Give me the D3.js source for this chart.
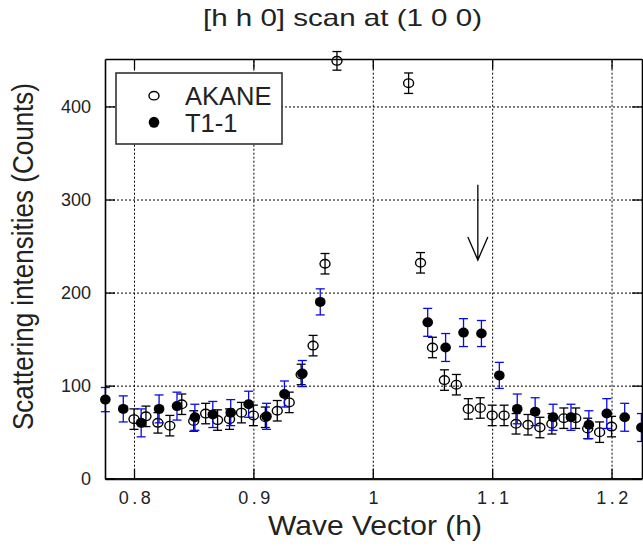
<!DOCTYPE html>
<html>
<head>
<meta charset="utf-8">
<script src="https://cdn.jsdelivr.net/npm/d3@7"></script>
<style>
    body { margin: 0; background: #fff; }
    .main-grid line { stroke: #000; stroke-width: 1; stroke-dasharray: 2,2; }
    .main-grid path { display: none; }
</style>
</head>
<body>
<div id="chartContainer"></div>
<script>
// AKANE (open circles)
const akaneH = [0.80, 0.81, 0.82, 0.83, 0.84, 0.85, 0.86, 0.87, 0.88, 0.89, 0.90, 0.91,
    0.92, 0.93, 0.94, 0.95, 0.96, 0.97, 1.03, 1.04, 1.05, 1.06, 1.07, 1.08, 1.09, 1.10,
    1.11, 1.12, 1.13, 1.14, 1.15, 1.16, 1.17, 1.18, 1.19, 1.20];
const akaneCounts = [64, 67, 60, 57, 80, 62, 70, 63, 64, 71, 68, 66,
    73, 82, 112, 143, 231, 449, 425, 232, 141, 106, 101, 75, 76, 68,
    68, 59, 58, 55, 59, 65, 65, 54, 50, 56];
const akaneErr = [11, 11, 11, 11, 11, 11, 11, 11, 11, 11, 11, 11,
    11, 11, 11, 11, 11, 10, 11, 11, 11, 11, 11, 11, 11, 11,
    11, 11, 11, 11, 11, 11, 11, 11, 11, 11];

// T1-1 (filled circles)
const t11H = [0.776, 0.791, 0.806, 0.821, 0.836, 0.851, 0.866, 0.881, 0.896, 0.911,
    0.926, 0.941, 0.956, 1.046, 1.061, 1.076, 1.091, 1.106, 1.121, 1.136, 1.151,
    1.166, 1.181, 1.196, 1.211, 1.225];
const t11Counts = [85, 75, 60, 75, 78, 66, 69, 71, 80, 67,
    91, 113, 190, 168, 141, 157, 156, 111, 75, 72, 66,
    66, 58, 70, 66, 55];
const t11Err = [13, 14, 15, 15, 15, 14, 14, 14, 14, 14,
    14, 14, 14, 15, 15, 15, 14, 14, 16, 15, 14,
    14, 15, 16, 15, 15];

const xTicks = [0.8, 0.9, 1.0, 1.1, 1.2];
const xTickLabels = ['0.8', '0.9', '1', '1.1', '1.2'];
const yTicks = [0, 100, 200, 300, 400];

// arrow marking the peak position
const arrowH = 1.088;
const arrowFrom = 316;
const arrowTo = 235;

function init() {
    const width = 643;
    const height = 546;
    const margin = { top: 59, right: 1, bottom: 67.3, left: 105 };

    const svg = d3.select('#chartContainer')
        .append('svg')
        .attr('width', width)
        .attr('height', height)
        .style('font-family', '"Liberation Sans", Arial, sans-serif');

    const scX = d3.scaleLinear()
        .domain([0.7757, 1.2255])
        .range([margin.left, width - margin.right]);

    const scY = d3.scaleLinear()
        .domain([0, 451])
        .range([height - margin.bottom, margin.top]);

    const x0 = margin.left, x1 = width - margin.right;
    const y0 = height - margin.bottom, y1 = margin.top;

    // GRID
    svg.append('g')
        .attr('class', 'main-grid')
        .attr('transform', `translate(0, ${y0})`)
        .call(d3.axisBottom(scX).tickValues(xTicks).tickFormat('').tickSize(-(y0 - y1)));

    svg.append('g')
        .attr('class', 'main-grid')
        .attr('transform', `translate(${x0}, 0)`)
        .call(d3.axisLeft(scY).tickValues(yTicks.slice(1)).tickFormat('').tickSize(-(x1 - x0)));

    // data
    const akane = akaneH.map((h, i) => ({ h: h, v: akaneCounts[i], e: akaneErr[i] }));
    const t11 = t11H.map((h, i) => ({ h: h, v: t11Counts[i], e: t11Err[i] }));

    function errorBars(g, data, color) {
        const eb = g.selectAll('g')
            .data(data)
            .enter()
            .append('g')
            .attr('stroke', color)
            .attr('stroke-width', 1.3);
        eb.append('line')
            .attr('x1', d => scX(d.h)).attr('x2', d => scX(d.h))
            .attr('y1', d => scY(d.v - d.e)).attr('y2', d => scY(d.v + d.e));
        eb.append('line')
            .attr('x1', d => scX(d.h) - 4.5).attr('x2', d => scX(d.h) + 4.5)
            .attr('y1', d => scY(d.v - d.e)).attr('y2', d => scY(d.v - d.e));
        eb.append('line')
            .attr('x1', d => scX(d.h) - 4.5).attr('x2', d => scX(d.h) + 4.5)
            .attr('y1', d => scY(d.v + d.e)).attr('y2', d => scY(d.v + d.e));
    }

    // AKANE
    errorBars(svg.append('g').attr('id', 'akaneErr'), akane, '#000');
    svg.append('g')
        .attr('id', 'akane')
        .selectAll('ellipse')
        .data(akane)
        .enter()
        .append('ellipse')
        .attr('cx', d => scX(d.h))
        .attr('cy', d => scY(d.v))
        .attr('rx', 5).attr('ry', 4.3)
        .attr('fill', 'none')
        .attr('stroke', '#000')
        .attr('stroke-width', 1.4);

    // T1-1
    errorBars(svg.append('g').attr('id', 't11Err'), t11, '#0a0ae6');
    svg.append('g')
        .attr('id', 't11')
        .selectAll('ellipse')
        .data(t11)
        .enter()
        .append('ellipse')
        .attr('cx', d => scX(d.h))
        .attr('cy', d => scY(d.v))
        .attr('rx', 5.3).attr('ry', 5)
        .attr('fill', '#000');

    // arrow
    const ax = scX(arrowH);
    const tipY = scY(arrowTo);
    svg.append('path')
        .attr('d', `M${ax},${scY(arrowFrom)}L${ax},${tipY}M${ax - 10},${tipY - 23}L${ax},${tipY}L${ax + 10},${tipY - 23}`)
        .attr('fill', 'none')
        .attr('stroke', '#000')
        .attr('stroke-width', 1.3);

    // AXES (ticks pointing inward)
    const xAxis = d3.axisBottom(scX)
        .tickValues(xTicks)
        .tickFormat((d, i) => xTickLabels[i])
        .tickSizeInner(-10)
        .tickSizeOuter(0)
        .tickPadding(12.5);

    const gx = svg.append('g')
        .attr('transform', `translate(0, ${y0})`)
        .call(xAxis);
    gx.selectAll('text')
        .attr('fill', '#222')
        .attr('dx', '2px')
        .style('font-size', '18px')
        .style('letter-spacing', '3.5px');
    gx.select('.domain').attr('stroke-width', 2.2).attr('stroke', '#111');
    gx.selectAll('.tick line').attr('stroke-width', 1.3);

    const yAxis = d3.axisLeft(scY)
        .tickValues(yTicks)
        .tickSizeInner(-10)
        .tickSizeOuter(0)
        .tickPadding(14);

    const gy = svg.append('g')
        .attr('transform', `translate(${x0}, 0)`)
        .call(yAxis);
    gy.selectAll('text')
        .attr('fill', '#222')
        .style('font-size', '18px');
    gy.select('.domain').attr('stroke-width', 1.6);
    gy.selectAll('.tick line').attr('stroke-width', 1.3);

    const gt = svg.append('g')
        .attr('transform', `translate(0, ${y1})`)
        .call(d3.axisTop(scX).tickValues(xTicks).tickFormat('').tickSizeInner(-10).tickSizeOuter(0));
    gt.select('.domain').attr('stroke-width', 1.6);
    gt.selectAll('.tick line').attr('stroke-width', 1.3);

    const gr = svg.append('g')
        .attr('transform', `translate(${x1}, 0)`)
        .call(d3.axisRight(scY).tickValues(yTicks).tickFormat('').tickSizeInner(-10).tickSizeOuter(0));
    gr.select('.domain').attr('stroke-width', 1.6);
    gr.selectAll('.tick line').attr('stroke-width', 1.3);

    // LEGEND
    const lg = svg.append('g').attr('transform', 'translate(116, 73)');
    lg.append('rect')
        .attr('width', 166).attr('height', 71)
        .attr('fill', '#fff')
        .attr('stroke', '#333')
        .attr('stroke-width', 1.6);
    lg.append('ellipse')
        .attr('cx', 38).attr('cy', 22.7).attr('rx', 5).attr('ry', 4.2)
        .attr('fill', 'none').attr('stroke', '#000').attr('stroke-width', 1.4);
    lg.append('ellipse')
        .attr('cx', 38).attr('cy', 49.3).attr('rx', 5.3).attr('ry', 5.5)
        .attr('fill', '#000');
    lg.append('text')
        .attr('x', 69).attr('y', 32)
        .attr('fill', '#222')
        .style('font-size', '25.5px')
        .text('AKANE');
    lg.append('text')
        .attr('x', 69).attr('y', 58.7)
        .attr('fill', '#222')
        .style('font-size', '25.5px')
        .text('T1-1');

    // TITLES
    svg.append('text')
        .attr('x', 342.5).attr('y', 26)
        .attr('text-anchor', 'middle')
        .attr('fill', '#222')
        .attr('textLength', 279)
        .attr('lengthAdjust', 'spacingAndGlyphs')
        .style('font-size', '24px')
        .text('[h h 0] scan at (1 0 0)');

    svg.append('text')
        .attr('x', 375).attr('y', 535)
        .attr('text-anchor', 'middle')
        .attr('fill', '#222')
        .attr('textLength', 214)
        .attr('lengthAdjust', 'spacingAndGlyphs')
        .style('font-size', '28px')
        .text('Wave Vector (h)');

    svg.append('text')
        .attr('transform', 'translate(33, 256.5) rotate(-90)')
        .attr('text-anchor', 'middle')
        .attr('fill', '#222')
        .attr('textLength', 347)
        .attr('lengthAdjust', 'spacingAndGlyphs')
        .style('font-size', '29px')
        .text('Scattering intensities (Counts)');
}

init();
</script>
</body>
</html>
